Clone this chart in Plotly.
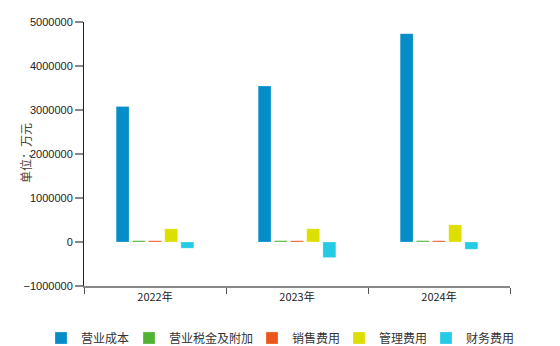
import plotly.graph_objects as go

years = ["2022年", "2023年", "2024年"]
series_names = ["营业成本", "营业税金及附加", "销售费用", "管理费用", "财务费用"]
op_cost = [3080000, 3545000, 4735000]
tax_surcharge = [30000, 30000, 30000]
selling_exp = [28000, 28000, 28000]
admin_exp = [300000, 300000, 390000]
finance_exp = [-140000, -355000, -165000]
colors = ["#058DC7", "#50B432", "#ED561B", "#DDDF00", "#24CBE5"]

series_values = [op_cost, tax_surcharge, selling_exp, admin_exp, finance_exp]

W, H = 560, 346
ML, MR, MT, MB = 84, 50, 22, 60
PW, PH = W - ML - MR, H - MT - MB

# each series gets its own legend box so the entries sit in one row
legend_left_px = [41, 129, 252, 339, 426]
legend_mid_px = 338

fig = go.Figure()
layout_legends = {}
for i, (name, vals, col) in enumerate(zip(series_names, series_values, colors)):
    key = "legend" if i == 0 else f"legend{i + 1}"
    fig.add_trace(go.Bar(
        x=years, y=vals, name=name, legend=key,
        marker=dict(color=col, line=dict(color="rgba(255,255,255,0.45)", width=0.6)),
    ))
    layout_legends[key] = dict(
        x=(legend_left_px[i] - ML) / PW, xanchor="left",
        y=(MT + PH - legend_mid_px) / PH, yanchor="middle",
        orientation="h", bgcolor="rgba(0,0,0,0)",
        font=dict(family="Noto Sans CJK SC, sans-serif", size=12, color="#333"),
    )

fig.update_layout(
    width=W, height=H,
    margin=dict(l=ML, r=MR, t=MT, b=MB, autoexpand=False),
    paper_bgcolor="white", plot_bgcolor="white",
    barmode="group", bargap=0.43, bargroupgap=0.2,
    font=dict(family="Liberation Sans, Noto Sans CJK SC, sans-serif", size=11, color="#222"),
    showlegend=True,
    xaxis=dict(
        type="category", tickson="boundaries", ticks="outside", ticklen=6,
        tickcolor="#555", showline=True, linecolor="#888", linewidth=2,
        showgrid=False, zeroline=False,
        tickfont=dict(family="Noto Sans CJK SC, sans-serif", size=11, color="#222"),
    ),
    yaxis=dict(
        range=[-1000000, 5000000], dtick=1000000, tickformat="d",
        ticks="outside", ticklen=8, tickcolor="#888", tickwidth=2,
        showline=True, linecolor="#222", linewidth=1,
        showgrid=False, zeroline=False,
    ),
    annotations=[dict(
        text="单位：万元", textangle=-90, showarrow=False,
        xref="paper", yref="paper", x=(25 - ML) / PW, y=(MT + PH - 153) / PH,
        xanchor="center", yanchor="middle",
        font=dict(family="Noto Sans CJK SC, sans-serif", size=12, color="#444"),
    )],
    **layout_legends,
)

fig.write_html("out.html")
